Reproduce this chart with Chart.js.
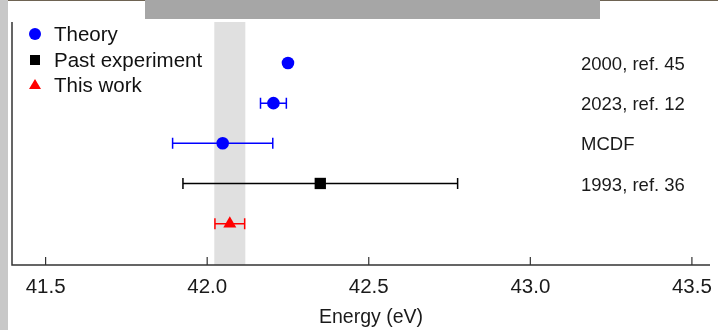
<!DOCTYPE html>
<html><head><meta charset="utf-8">
<style>html,body{margin:0;padding:0;background:#fff;}#wrap{width:718px;height:330px;position:relative;}</style>
<script src="https://cdn.jsdelivr.net/npm/chart.js@4.4.0/dist/chart.umd.min.js"></script>
</head><body><div id="wrap"><canvas id="c" width="718" height="330"></canvas></div>
<script>
// ---- data ----
const rowLabels = ["2000, ref. 45", "2023, ref. 12", "MCDF", "1993, ref. 36"];
const rowLabelRows = [5, 4, 3, 2];
const theoryValues = [42.25, 42.205, 42.048];
const theoryErrors = [0, 0.04, 0.155];
const theoryRows = [5, 4, 3];
const pastValues = [42.35];
const pastErrors = [0.425];
const pastRows = [2];
const thisWorkValues = [42.07];
const thisWorkErrors = [0.046];
const thisWorkRows = [1];
const bandRange = [42.022, 42.118];
const xTicks = [41.5, 42.0, 42.5, 43.0, 43.5];
const legendLabels = ["Theory", "Past experiment", "This work"];
const axisTitle = "Energy (eV)";

const FONT = "'Liberation Sans', Arial, Helvetica, sans-serif";
const colors = ['#0000ff', '#000000', '#ff0000'];
const styles = ['circle', 'rect', 'triangle'];
const errs = [theoryErrors, pastErrors, thisWorkErrors];

function pts(vals, rows) { return vals.map((v, i) => ({x: v, y: rows[i]})); }

const decor = {
  id: 'decor',
  beforeDraw(chart) {
    const ctx = chart.ctx;
    ctx.save();
    ctx.fillStyle = '#fff';
    ctx.fillRect(0, 0, chart.width, chart.height);
    // screenshot artifacts: grey strip on left, grey bar on top
    ctx.fillStyle = '#c8c8c8';
    ctx.fillRect(0, 0, 8, chart.height);
    ctx.fillStyle = '#a6a6a6';
    ctx.fillRect(145, 0, 455, 19);
    ctx.fillStyle = '#6e6352';
    ctx.fillRect(8, 0, 137, 1);
    ctx.fillRect(600, 0, 118, 1);
    ctx.restore();
  },
  beforeDatasetsDraw(chart) {
    const ctx = chart.ctx, xs = chart.scales.x, a = chart.chartArea;
    ctx.save();
    // band
    const b0 = xs.getPixelForValue(bandRange[0]), b1 = xs.getPixelForValue(bandRange[1]);
    ctx.fillStyle = '#e0e0e0';
    ctx.fillRect(b0, a.top, b1 - b0, a.bottom - a.top);
    // error bars
    chart.data.datasets.forEach((ds, di) => {
      const meta = chart.getDatasetMeta(di);
      ctx.strokeStyle = colors[di];
      ctx.lineWidth = 1.5;
      meta.data.forEach((p, i) => {
        const e = errs[di][i];
        if (!e) return;
        const v = ds.data[i].x;
        const l = xs.getPixelForValue(v - e), r = xs.getPixelForValue(v + e);
        const y = p.y;
        ctx.beginPath();
        ctx.moveTo(l, y); ctx.lineTo(r, y);
        ctx.moveTo(l, y - 5.5); ctx.lineTo(l, y + 5.5);
        ctx.moveTo(r, y - 5.5); ctx.lineTo(r, y + 5.5);
        ctx.stroke();
      });
    });
    ctx.restore();
  },
  afterDraw(chart) {
    const ctx = chart.ctx, xs = chart.scales.x, ys = chart.scales.y, a = chart.chartArea;
    ctx.save();
    // axes lines
    ctx.strokeStyle = '#333';
    ctx.lineWidth = 1.5;
    ctx.beginPath();
    ctx.moveTo(a.left, a.top); ctx.lineTo(a.left, a.bottom);
    ctx.lineTo(a.right, a.bottom);
    ctx.stroke();
    // inward ticks
    ctx.lineWidth = 1.2;
    xs.ticks.forEach(t => {
      const x = xs.getPixelForValue(t.value);
      ctx.beginPath(); ctx.moveTo(x, a.bottom); ctx.lineTo(x, a.bottom - 8); ctx.stroke();
    });
    // axis title
    ctx.fillStyle = '#1a1a1a';
    ctx.font = '19.5px ' + FONT;
    ctx.textAlign = 'center';
    ctx.textBaseline = 'middle';
    ctx.fillText(axisTitle, (a.left + a.right) / 2 + 10, 318);
    // row labels
    ctx.font = '18.5px ' + FONT;
    ctx.textAlign = 'left';
    rowLabels.forEach((s, i) => {
      ctx.fillText(s, a.right - 129, ys.getPixelForValue(rowLabelRows[i]) + 2);
    });
    // legend
    const lx = 35, ly = [34, 60, 85], tx = 54;
    ctx.font = '20.5px ' + FONT;
    legendLabels.forEach((s, i) => {
      ctx.fillStyle = colors[i];
      const y = ly[i];
      if (i === 0) { ctx.beginPath(); ctx.arc(lx, y, 6, 0, Math.PI * 2); ctx.fill(); }
      else if (i === 1) { ctx.fillRect(lx - 5, y - 5, 10, 10); }
      else { ctx.beginPath(); ctx.moveTo(lx, y - 6); ctx.lineTo(lx + 6, y + 4); ctx.lineTo(lx - 6, y + 4); ctx.closePath(); ctx.fill(); }
      ctx.fillStyle = '#111';
      ctx.fillText(s, tx, y + 1);
    });
    ctx.restore();
  }
};

new Chart(document.getElementById('c'), {
  type: 'scatter',
  data: {
    datasets: [
      {label: legendLabels[0], data: pts(theoryValues, theoryRows), backgroundColor: colors[0], borderColor: colors[0], pointStyle: styles[0], pointRadius: 6.3, borderWidth: 0},
      {label: legendLabels[1], data: pts(pastValues, pastRows), backgroundColor: colors[1], borderColor: colors[1], pointStyle: styles[1], pointRadius: 8, borderWidth: 0},
      {label: legendLabels[2], data: pts(thisWorkValues, thisWorkRows), backgroundColor: colors[2], borderColor: colors[2], pointStyle: styles[2], pointRadius: 7.5, borderWidth: 0}
    ]
  },
  options: {
    responsive: false,
    devicePixelRatio: 1,
    animation: false,
    layout: {padding: {left: 12, right: 5, top: 22, bottom: 0}},
    plugins: {legend: {display: false}, tooltip: {enabled: false}},
    scales: {
      x: {
        type: 'linear', min: 41.396, max: 43.556,
        afterBuildTicks: s => { s.ticks = xTicks.map(v => ({value: v})); },
        afterFit: s => { s.height = 65; s.paddingLeft = 0; s.paddingRight = 0; },
        grid: {display: false, drawTicks: false},
        border: {display: false},
        ticks: {padding: 10, color: '#1a1a1a', font: {family: FONT, size: 20.5}, callback: v => Number(v).toFixed(1), maxRotation: 0, autoSkip: false},
        title: {display: false}
      },
      y: {type: 'linear', min: -0.03, max: 6.02, display: false}
    }
  },
  plugins: [decor]
});
</script></body></html>
